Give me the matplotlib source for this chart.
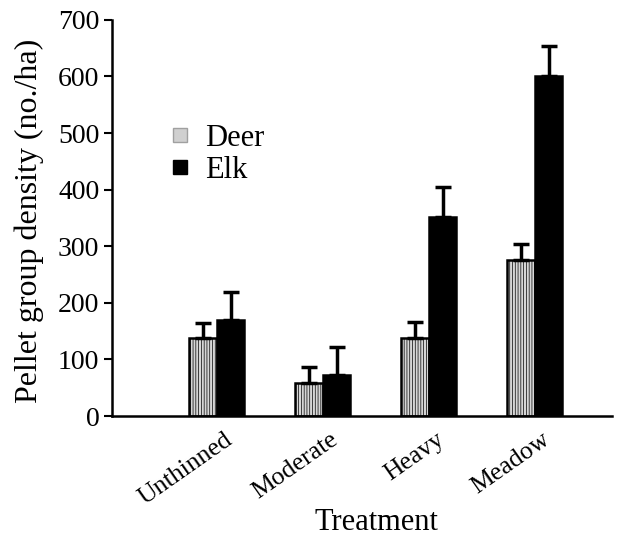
import matplotlib.pyplot as plt
from matplotlib.transforms import ScaledTranslation
import numpy as np

treatments = ['Unthinned', 'Moderate', 'Heavy', 'Meadow']
deer = [137, 58, 138, 275]
deer_err = [27, 29, 28, 29]
elk = [170, 72, 352, 600]
elk_err = [49, 50, 52, 53]

plt.rcParams['font.family'] = ['Liberation Serif', 'DejaVu Serif']
plt.rcParams['hatch.color'] = '#a8a8a8'
plt.rcParams['hatch.linewidth'] = 0.5

fig = plt.figure(figsize=(6.39, 5.37), dpi=100)
ax = fig.add_axes([0.175, 0.2253, 0.783, 0.7377])

x = np.arange(len(treatments))
w = 0.26
ekw = dict(elinewidth=2.5, capsize=6, capthick=2.5, ecolor='black')
ax.bar(x - w / 2, deer, w, yerr=[np.zeros(4), deer_err], color='#d6d6d6',
       edgecolor='black', linewidth=1.8, hatch='||||||', error_kw=ekw, zorder=2)
ax.bar(x + w / 2, elk, w, yerr=[np.zeros(4), elk_err], color='black',
       edgecolor='black', linewidth=1.8, error_kw=ekw, zorder=2)

ax.set_xlim(-0.99, 3.73)
ax.set_ylim(0, 700)
ax.set_yticks(range(0, 701, 100))
ax.tick_params(axis='y', direction='out', length=6, width=1.5, labelsize=20, pad=3)
ax.set_xticks(x)
ax.set_xticklabels(treatments, rotation=35, ha='right', rotation_mode='anchor', fontsize=18.5)
ax.tick_params(axis='x', length=0, pad=9)
shift = ScaledTranslation(0.07, 0, fig.dpi_scale_trans)
for lab in ax.get_xticklabels():
    lab.set_transform(lab.get_transform() + shift)
for s in ['top', 'right']:
    ax.spines[s].set_visible(False)
ax.spines['left'].set_linewidth(1.8)
ax.spines['bottom'].set_linewidth(1.8)

ax.set_ylabel('Pellet group density (no./ha)', fontsize=23)
ax.yaxis.set_label_coords(-0.136, 0.492)
ax.set_xlabel('Treatment', fontsize=22)
ax.xaxis.set_label_coords(0.528, -0.232)

h1 = plt.Line2D([], [], marker='s', linestyle='', markersize=9.5, markerfacecolor='#d0d0d0',
                markeredgecolor='#a0a0a0')
h2 = plt.Line2D([], [], marker='s', linestyle='', markersize=9.5, markerfacecolor='black',
                markeredgecolor='black')
ax.legend([h1, h2], ['Deer', 'Elk'], loc='center left', bbox_to_anchor=(0.088, 0.66),
          frameon=False, fontsize=22, borderpad=0, handletextpad=0.5, labelspacing=0.1,
          handlelength=0.6)

plt.savefig('out.png', dpi=100)
